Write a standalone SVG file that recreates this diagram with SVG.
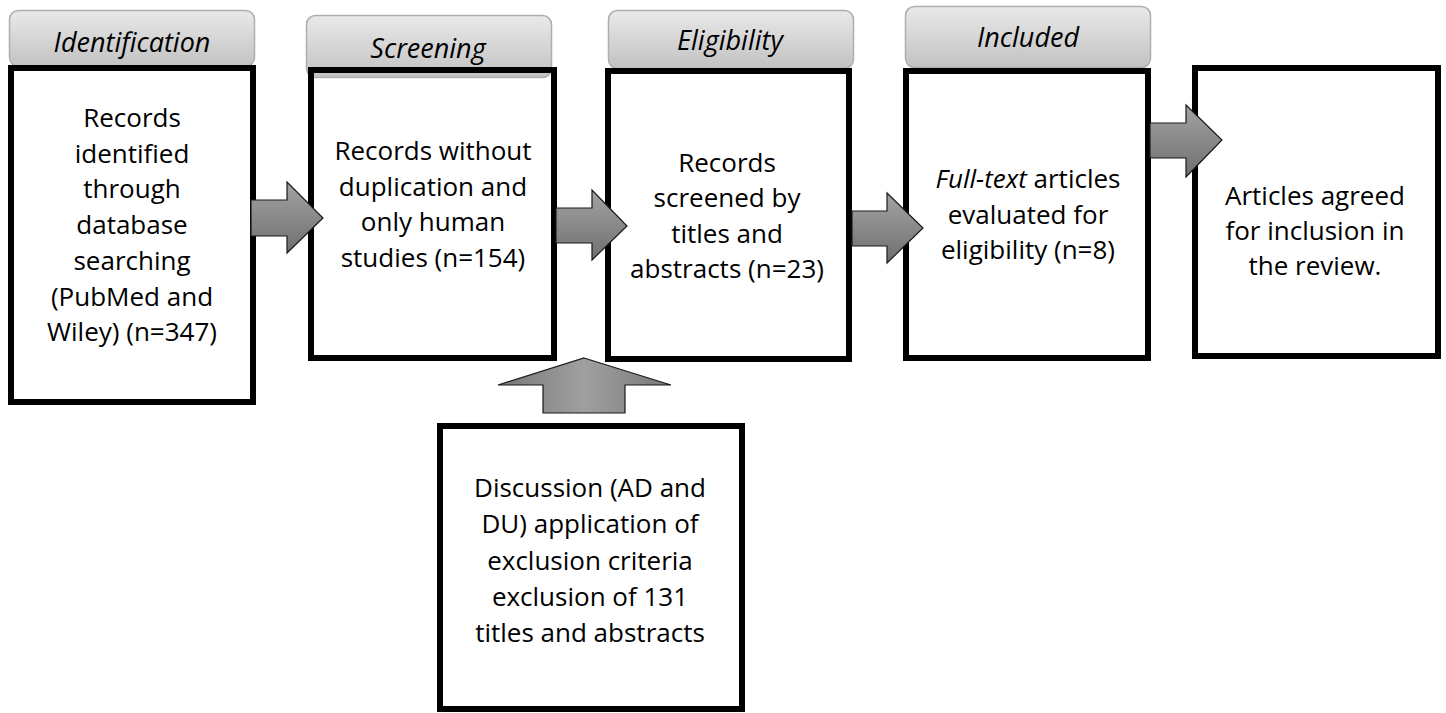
<svg xmlns="http://www.w3.org/2000/svg" width="1446" height="713" viewBox="0 0 1446 713">
<style>
.tab{stroke:#aeaeae;stroke-width:1.5;fill:url(#tabg)}
.box{fill:none;stroke:#000;stroke-width:6}
.arr{fill:url(#arrg);stroke:#1a1a1a;stroke-width:1.2;stroke-linejoin:miter}
.arrv{fill:url(#arrgv);stroke:#1a1a1a;stroke-width:1.2}
text{font-family:"Open Sans","Noto Sans",sans-serif;font-size:26px;fill:#000;text-anchor:middle}
.lbl{font-style:italic;font-size:27px}
</style>
<defs>
<linearGradient id="tabg" x1="0" y1="0" x2="0" y2="1">
<stop offset="0" stop-color="#e9e9e9"/>
<stop offset="1" stop-color="#c2c2c2"/>
</linearGradient>
<linearGradient id="arrg" x1="0" y1="0" x2="0" y2="1">
<stop offset="0" stop-color="#a3a3a3"/>
<stop offset="1" stop-color="#6f6f6f"/>
</linearGradient>
<linearGradient id="arrgv" x1="0" y1="0" x2="1" y2="0">
<stop offset="0" stop-color="#777"/>
<stop offset="0.5" stop-color="#a0a0a0"/>
<stop offset="1" stop-color="#777"/>
</linearGradient>
</defs>

<g id="node-identification">
<rect class="tab" x="9.5" y="10.5" width="245" height="56" rx="9"/>
<text class="lbl" x="132" y="52">Identification</text>
<rect class="box" x="11" y="68" width="242" height="334"/>
<text x="132" y="127">Records</text>
<text x="132" y="162.7">identified</text>
<text x="132" y="198.4">through</text>
<text x="132" y="234">database</text>
<text x="132" y="269.8">searching</text>
<text x="132" y="305.5">(PubMed and</text>
<text x="132" y="341">Wiley) (n=347)</text>
</g>

<g id="node-screening">
<rect class="tab" x="306.5" y="15.5" width="245" height="62" rx="9"/>
<text class="lbl" x="428" y="58">Screening</text>
<rect class="box" x="311" y="70" width="243" height="288"/>
<text x="433" y="160">Records without</text>
<text x="433" y="195.7">duplication and</text>
<text x="433" y="231.4">only human</text>
<text x="433" y="267">studies (n=154)</text>
</g>

<g id="node-eligibility">
<rect class="tab" x="608.5" y="10.5" width="245" height="58" rx="9"/>
<text class="lbl" x="730" y="50">Eligibility</text>
<rect class="box" x="608" y="71" width="241" height="288"/>
<text x="727" y="171.5">Records</text>
<text x="727" y="207">screened by</text>
<text x="727" y="242.5">titles and</text>
<text x="727" y="278">abstracts (n=23)</text>
</g>

<g id="node-included">
<rect class="tab" x="905.5" y="6.5" width="245" height="61" rx="9"/>
<text class="lbl" x="1028" y="47">Included</text>
<rect class="box" x="906" y="71" width="242" height="287"/>
<text x="1028" y="188"><tspan font-style="italic">Full-text</tspan> articles</text>
<text x="1028" y="224">evaluated for</text>
<text x="1028" y="259">eligibility (n=8)</text>
</g>

<g id="node-final">
<rect class="box" x="1195" y="68" width="243" height="288"/>
<text x="1315" y="205">Articles agreed</text>
<text x="1315" y="240">for inclusion in</text>
<text x="1315" y="275">the review.</text>
</g>

<g id="node-discussion">
<rect class="box" x="440" y="426" width="302" height="283"/>
<text x="590" y="497">Discussion (AD and</text>
<text x="590" y="533">DU) application of</text>
<text x="590" y="570">exclusion criteria</text>
<text x="590" y="606">exclusion of 131</text>
<text x="590" y="642">titles and abstracts</text>
</g>

<g id="connectors">
<path class="arr" d="M251,200 H287 V182 L323,218 L287,253 V236 H251 Z"/>
<path class="arr" d="M556,208 H592 V190 L627,226 L592,260 V243 H556 Z"/>
<path class="arr" d="M852,211 H887 V193 L923,228 L887,263 V246 H852 Z"/>
<path class="arr" d="M1150,123 H1186 V105 L1222,140 L1186,177 V158 H1150 Z"/>
<path class="arrv" d="M584,358 L671,385 H625 V413 H543 V385 H498 Z"/>
</g>
</svg>
